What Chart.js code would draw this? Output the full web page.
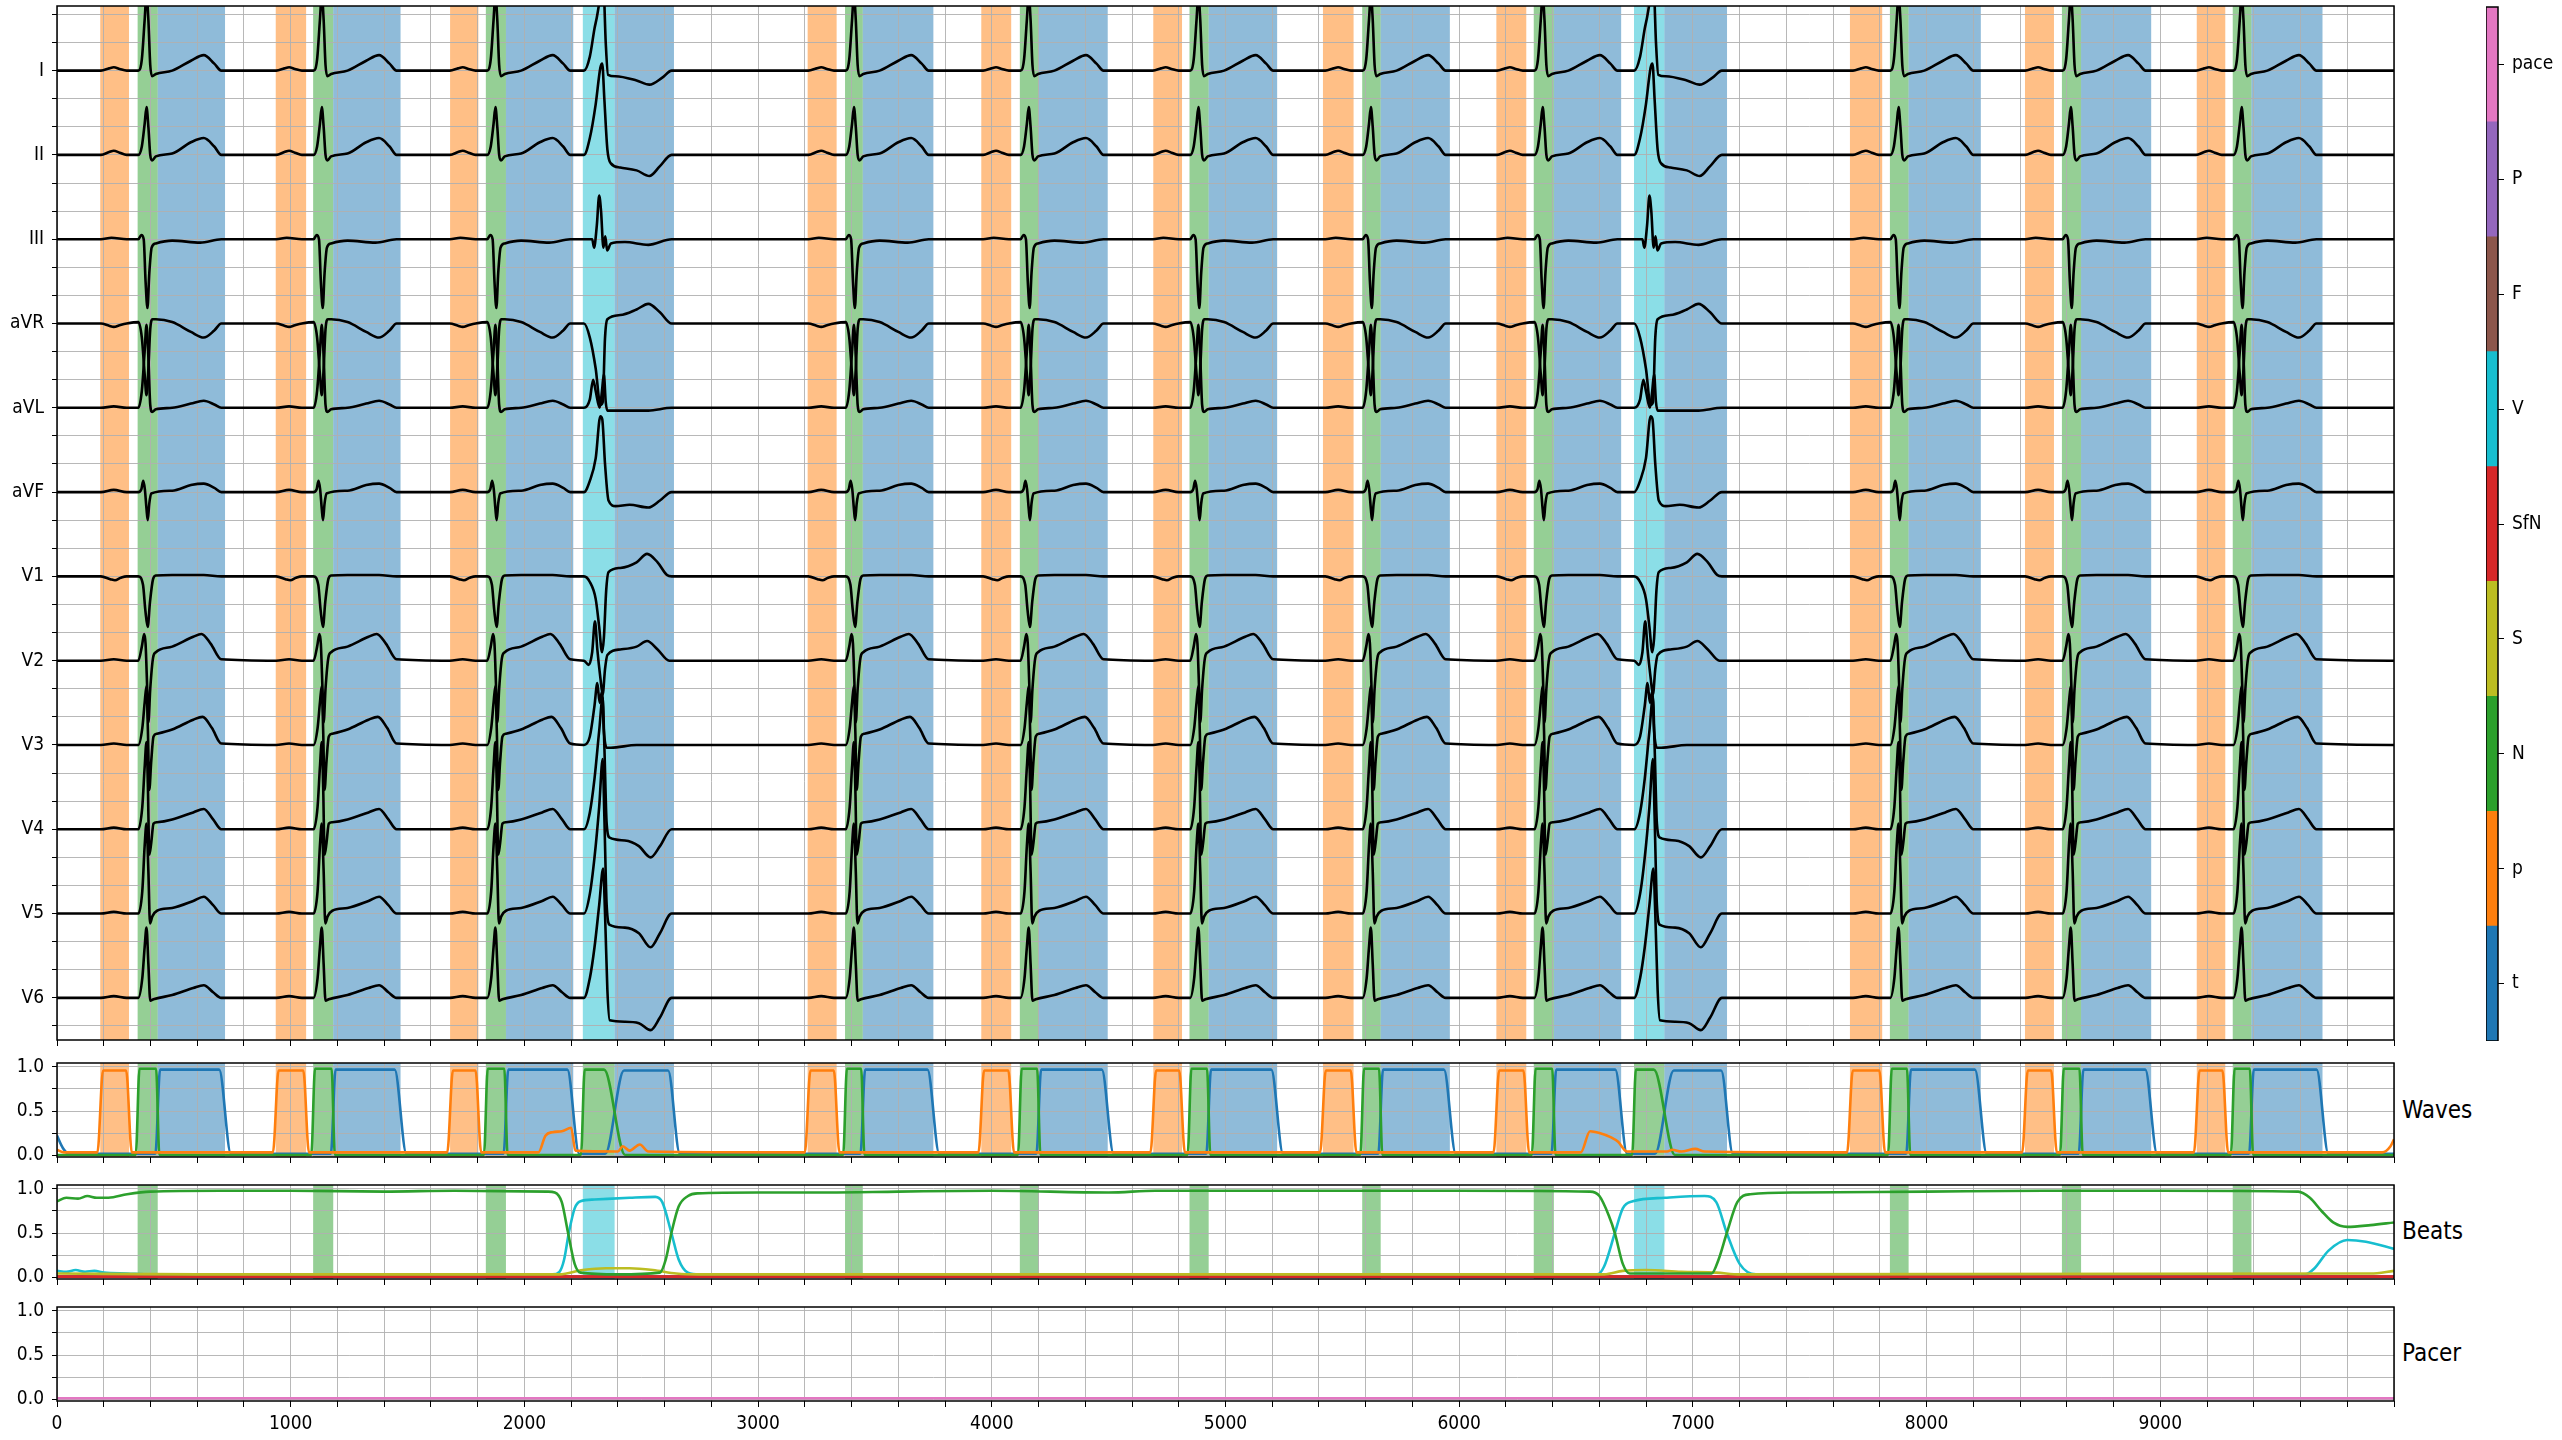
<!DOCTYPE html>
<html>
<head>
<meta charset="utf-8">
<script src="https://cdn.jsdelivr.net/npm/chart.js@4.4.1/dist/chart.umd.min.js"></script>
<style>
  html, body { margin: 0; padding: 0; background: #fff; }
  body { width: 2562px; height: 1440px; position: relative; overflow: hidden; }
  canvas { position: absolute; }
  .side-label {
    position: absolute;
    font-family: "DejaVu Sans Condensed", "DejaVu Sans", sans-serif;
    font-size: 24px;
    color: #000;
    transform: translateY(-50%);
    white-space: nowrap;
  }
</style>
</head>
<body>
<canvas id="ecgChart" width="2400" height="1047" style="left:0;top:0"></canvas>
<canvas id="wavesChart" width="2400" height="114" style="left:0;top:1053px"></canvas>
<canvas id="beatsChart" width="2400" height="114" style="left:0;top:1175px"></canvas>
<canvas id="pacerChart" width="2400" height="143" style="left:0;top:1297px"></canvas>
<canvas id="colorbar" width="76" height="1041" style="left:2486px;top:0"></canvas>
<div class="side-label" style="left:2402px;top:1110px">Waves</div>
<div class="side-label" style="left:2402px;top:1231px">Beats</div>
<div class="side-label" style="left:2402px;top:1353px">Pacer</div>

<script>
// ─── Data ───

var leadNames = ["I", "II", "III", "aVR", "aVL", "aVF", "V1", "V2", "V3", "V4", "V5", "V6"];
var classNames = ["t", "p", "N", "S", "SfN", "V", "F", "P", "pace"];
var classColors = ["#1f77b4", "#ff7f0e", "#2ca02c", "#bcbd22", "#d62728", "#17becf", "#8c564b", "#9467bd", "#e377c2"];
var xMajorTicks = [0, 1000, 2000, 3000, 4000, 5000, 6000, 7000, 8000, 9000];
var probTicks = [0, 0.5, 1.0];

// sample index of each R peak (normal) and each ventricular beat peak
var normalPeaks = [383, 1133, 1876, 3410, 4158, 4884, 5622, 6357, 7880, 8617, 9348];
var pvcPeaks = [2330, 6824];

// segmentation spans [start, end] in samples
var pWaves = [[185, 308], [936, 1066], [1682, 1803], [3212, 3336], [3955, 4083], [4691, 4814],
  [5417, 5548], [6159, 6287], [7672, 7810], [8421, 8545], [9156, 9278]];
var qrsNormal = [[345, 431], [1096, 1182], [1835, 1921], [3372, 3448], [4120, 4201], [4846, 4928],
  [5585, 5664], [6319, 6405], [7843, 7923], [8579, 8661], [9310, 9390]];
var qrsVentricular = [[2250, 2386], [6748, 6878]];
var tWaves = [[431, 719], [1182, 1470], [1921, 2209], [3448, 3750], [4201, 4496], [4928, 5221],
  [5664, 5960], [6405, 6693], [7923, 8232], [8661, 8961], [9390, 9694]];
var tWavesAfterV = [[2386, 2640], [6878, 7146]];

// normal beat shape per lead: [samples from R peak, amplitude in grid units]
var normalBeat = [
  [[-195, 0], [-160, 0.08], [-140, 0.12], [-115, 0.06], [-85, 0], [-35, 0], [-20, 0.4], [-8, 1.8], [0, 2.7], [8, 1.8], [16, 0.2], [24, -0.2], [40, -0.12], [110, 0], [190, 0.35], [245, 0.55], [290, 0.25], [320, 0]],
  [[-195, 0], [-160, 0.1], [-140, 0.15], [-115, 0.08], [-85, 0], [-35, 0], [-20, 0.3], [-8, 1.1], [0, 1.7], [8, 1.0], [16, 0], [24, -0.2], [40, -0.05], [110, 0.05], [190, 0.45], [245, 0.6], [290, 0.3], [320, 0]],
  [[-195, 0], [-150, 0.05], [-85, 0], [-35, 0], [-22, 0.15], [-12, 0], [-4, -1.5], [4, -2.45], [12, -1.2], [22, -0.3], [40, -0.15], [110, -0.05], [230, -0.12], [320, 0]],
  [[-195, 0], [-160, -0.08], [-140, -0.12], [-115, -0.06], [-85, 0], [-35, 0.05], [-20, -0.5], [-8, -1.8], [0, -2.55], [8, -1.6], [16, -0.2], [26, 0.15], [40, 0.15], [110, 0.05], [190, -0.3], [245, -0.5], [290, -0.25], [320, 0]],
  [[-195, 0], [-140, 0.05], [-85, 0], [-35, 0], [-20, 0.6], [-8, 2.0], [0, 2.95], [8, 1.8], [16, 0.1], [24, -0.15], [40, -0.05], [110, 0], [190, 0.15], [245, 0.25], [290, 0.12], [320, 0]],
  [[-195, 0], [-140, 0.08], [-85, 0], [-35, 0], [-22, 0.1], [-14, 0.4], [-7, 0.1], [0, -0.6], [5, -1.0], [12, -0.4], [20, -0.05], [110, 0.05], [190, 0.25], [245, 0.3], [290, 0.15], [320, 0]],
  [[-195, 0], [-155, -0.1], [-135, -0.14], [-110, -0.05], [-85, 0], [-35, 0], [-15, -0.3], [-5, -1.2], [5, -1.8], [15, -0.9], [28, -0.1], [40, 0.03], [110, 0.05], [245, 0.05], [320, 0]],
  [[-195, 0], [-140, 0.05], [-85, 0], [-35, 0], [-20, 0.5], [-10, 0.95], [-4, 0.6], [3, -1.0], [8, -2.2], [16, -1.0], [28, 0.1], [40, 0.3], [110, 0.5], [200, 0.85], [235, 0.95], [275, 0.6], [320, 0.05]],
  [[-195, 0], [-140, 0.05], [-85, 0], [-35, 0], [-18, 0.6], [-8, 1.5], [0, 2.1], [6, 0.5], [12, -1.6], [20, -0.6], [30, 0.3], [45, 0.4], [110, 0.55], [200, 0.9], [240, 1.0], [280, 0.6], [320, 0.05]],
  [[-195, 0], [-140, 0.06], [-85, 0], [-35, 0], [-18, 0.8], [-8, 2.2], [0, 3.1], [6, 1.5], [12, -0.9], [20, -0.5], [30, 0.2], [45, 0.25], [110, 0.35], [200, 0.6], [245, 0.72], [285, 0.35], [320, 0]],
  [[-195, 0], [-140, 0.06], [-85, 0], [-35, 0], [-18, 0.8], [-8, 2.4], [0, 3.2], [8, 1.5], [15, -0.35], [25, -0.1], [45, 0.1], [110, 0.2], [200, 0.45], [245, 0.6], [285, 0.3], [320, 0]],
  [[-195, 0], [-140, 0.06], [-85, 0], [-35, 0], [-18, 0.7], [-8, 1.8], [0, 2.5], [8, 1.2], [16, -0.1], [30, -0.05], [110, 0.1], [200, 0.35], [245, 0.45], [285, 0.2], [320, 0]]
];

// ventricular beat shape per lead: [samples from peak, amplitude in grid units]
var pvcBeat = [
  [[-75, 0], [-50, 0.5], [-30, 1.5], [-20, 1.9], [-10, 2.4], [0, 3.0], [8, 3.0], [18, 1.0], [28, -0.15], [60, -0.2], [150, -0.35], [205, -0.5], [260, -0.25], [300, 0]],
  [[-75, 0], [-50, 0.6], [-25, 1.8], [-5, 3.1], [3, 3.25], [12, 2.0], [25, 0.2], [40, -0.3], [80, -0.45], [150, -0.55], [205, -0.75], [250, -0.4], [300, 0]],
  [[-75, 0], [-40, 0], [-32, -0.3], [-20, 0.5], [-10, 1.55], [-2, 1.0], [8, -0.3], [16, 0.1], [24, -0.4], [40, -0.15], [100, -0.1], [200, -0.2], [300, 0]],
  [[-75, 0], [-50, -0.5], [-25, -1.6], [-5, -2.9], [5, -2.8], [15, -0.5], [25, 0.15], [80, 0.3], [150, 0.5], [200, 0.7], [250, 0.4], [300, 0]],
  [[-75, 0], [-50, 0.3], [-36, 1.0], [-25, 0.6], [-8, 0], [2, 0.6], [10, 1.2], [18, 0.2], [25, -0.1], [200, -0.1], [300, 0]],
  [[-75, 0], [-50, 0.4], [-25, 1.2], [-5, 2.7], [3, 2.6], [15, 1.0], [30, -0.3], [60, -0.5], [120, -0.45], [200, -0.55], [250, -0.3], [300, 0]],
  [[-75, 0], [-50, -0.2], [-25, -0.8], [-10, -1.8], [2, -2.7], [10, -2.2], [20, -0.5], [30, 0.15], [80, 0.3], [150, 0.5], [195, 0.8], [240, 0.5], [280, 0.05], [300, 0]],
  [[-75, 0], [-55, -0.15], [-40, 0.3], [-28, 1.4], [-18, 0.4], [-5, -0.6], [5, -1.2], [15, -0.3], [25, 0.2], [80, 0.4], [150, 0.5], [195, 0.7], [240, 0.4], [290, 0]],
  [[-75, 0], [-50, 0.3], [-30, 1.4], [-18, 2.2], [-8, 1.5], [2, 1.9], [10, 0.5], [22, -0.1], [40, -0.1], [150, 0], [300, 0]],
  [[-75, 0], [-50, 0.6], [-30, 1.8], [-10, 3.5], [5, 4.7], [12, 3.0], [22, 0.2], [35, -0.3], [100, -0.4], [160, -0.6], [210, -1.0], [250, -0.6], [300, 0]],
  [[-75, 0], [-50, 0.7], [-30, 2.0], [-10, 3.8], [5, 5.5], [12, 3.5], [22, 0.3], [35, -0.4], [100, -0.5], [160, -0.7], [210, -1.2], [250, -0.7], [300, 0]],
  [[-75, 0], [-50, 0.7], [-30, 1.8], [-10, 3.3], [7, 4.6], [15, 3.0], [25, 0.3], [35, -0.8], [100, -0.85], [160, -0.9], [210, -1.15], [250, -0.7], [300, 0]]
];

// wave probabilities outside the step plateaus
var pProbExtra = [[0, 0.06], [30, 0.03], [2060, 0.03], [2090, 0.22], [2120, 0.26], [2160, 0.27], [2200, 0.31], [2218, 0.05],
  [2400, 0.04], [2421, 0.1], [2450, 0.05], [2494, 0.12], [2530, 0.04], [6520, 0.03], [6560, 0.27], [6600, 0.25],
  [6650, 0.2], [6680, 0.15], [6718, 0.04], [6890, 0.04], [6912, 0.06], [6950, 0.04], [7010, 0.07], [7050, 0.04],
  [9950, 0.03], [9985, 0.1], [10000, 0.18]];
var tProbExtra = [[0, 0.22], [25, 0.08], [50, 0.015], [10000, 0.015]];
var qrsProbExtra = [[0, 0], [10000, 0]];

// beat class probabilities (Beats panel)
var probN = [[0, 0.86], [40, 0.9], [90, 0.89], [130, 0.92], [170, 0.9], [220, 0.9], [300, 0.94], [400, 0.97], [700, 0.98],
  [1000, 0.98], [1400, 0.97], [1700, 0.98], [2100, 0.97], [2130, 0.96], [2160, 0.85], [2187, 0.5], [2215, 0.15],
  [2240, 0.05], [2400, 0.03], [2580, 0.05], [2605, 0.2], [2629, 0.5], [2660, 0.8], [2700, 0.92], [2740, 0.95],
  [3000, 0.96], [3300, 0.96], [3600, 0.97], [4000, 0.98], [4500, 0.96], [4700, 0.98], [5200, 0.98], [5500, 0.98],
  [6000, 0.98], [6560, 0.97], [6600, 0.92], [6640, 0.7], [6666, 0.5], [6700, 0.15], [6730, 0.04], [7080, 0.04],
  [7110, 0.2], [7145, 0.5], [7190, 0.85], [7245, 0.94], [7450, 0.96], [8000, 0.97], [8500, 0.98], [9000, 0.98],
  [9590, 0.97], [9640, 0.9], [9690, 0.75], [9740, 0.62], [9800, 0.57], [9900, 0.59], [10000, 0.62]];
var probV = [[0, 0.07], [40, 0.06], [80, 0.08], [120, 0.06], [160, 0.07], [200, 0.05], [300, 0.04], [400, 0.03],
  [2120, 0.03], [2150, 0.06], [2170, 0.2], [2190, 0.5], [2215, 0.78], [2240, 0.86], [2300, 0.88], [2450, 0.9],
  [2560, 0.91], [2590, 0.85], [2629, 0.5], [2660, 0.2], [2700, 0.05], [2750, 0.03], [6590, 0.03], [6620, 0.12],
  [6666, 0.5], [6700, 0.78], [6743, 0.86], [6880, 0.9], [7050, 0.92], [7100, 0.85], [7145, 0.5], [7200, 0.15],
  [7270, 0.03], [9620, 0.03], [9660, 0.1], [9720, 0.3], [9800, 0.42], [9880, 0.4], [10000, 0.32]];
var probS = [[0, 0.04], [600, 0.03], [2150, 0.03], [2250, 0.08], [2350, 0.1], [2450, 0.1], [2550, 0.08], [2650, 0.04],
  [2750, 0.03], [6620, 0.03], [6700, 0.07], [6800, 0.08], [6950, 0.06], [7100, 0.05], [7200, 0.03], [9900, 0.04], [10000, 0.07]];
var probSfN = [[0, 0.005], [10000, 0.005]];
var probF = [[0, 0.005], [10000, 0.005]];
var probP = [[0, 0.01], [10000, 0.01]];
var probPace = [[0, 0.01], [10000, 0.01]];

// ─── Helpers ───

var fontFamily = "'DejaVu Sans Condensed', 'DejaVu Sans', sans-serif";
var tickFont = { family: fontFamily, size: 19 };
var gridColor = "rgba(176, 176, 176, 0.9)";

function spanColor(hex) {
  var n = parseInt(hex.slice(1), 16);
  return "rgba(" + (n >> 16) + "," + ((n >> 8) & 255) + "," + (n & 255) + ",0.5)";
}

function toXY(pairs) {
  return pairs.map(function (p) { return { x: p[0], y: p[1] }; });
}

function buildLead(k) {
  var base = -3 * k;
  var events = [];
  normalPeaks.forEach(function (t) { events.push([t, normalBeat[k]]); });
  pvcPeaks.forEach(function (t) { events.push([t, pvcBeat[k]]); });
  events.sort(function (a, b) { return a[0] - b[0]; });
  var pts = [{ x: 0, y: base }];
  events.forEach(function (ev) {
    ev[1].forEach(function (p) { pts.push({ x: ev[0] + p[0], y: base + p[1] }); });
  });
  pts.push({ x: 10000, y: base });
  return pts;
}

// plateau curve over the segmentation spans, edges
function plateau(regions, lo, hi, rise, fall) {
  var pts = [];
  regions.forEach(function (r) {
    pts.push([r[0] - rise, lo], [r[0] + rise, hi], [r[1] - fall, hi], [r[1] + fall, lo]);
  });
  return pts;
}

function merged() {
  var all = [];
  for (var i = 0; i < arguments.length; i++) all = all.concat(arguments[i]);
  all.sort(function (a, b) { return a[0] - b[0]; });
  return toXY(all);
}

var spanPlugin = {
  id: "spans",
  beforeDraw: function (chart, args, opts) {
    var ctx = chart.ctx, area = chart.chartArea, xs = chart.scales.x;
    ctx.save();
    (opts.list || []).forEach(function (s) {
      var a = xs.getPixelForValue(s[0]), b = xs.getPixelForValue(s[1]);
      ctx.fillStyle = s[2];
      ctx.fillRect(a, area.top, b - a, area.bottom - area.top);
    });
    ctx.restore();
  }
};

var framePlugin = {
  id: "frame",
  afterDraw: function (chart) {
    var ctx = chart.ctx, a = chart.chartArea;
    ctx.save();
    ctx.strokeStyle = "#000";
    ctx.lineWidth = 1.5;
    ctx.strokeRect(a.left, a.top, a.right - a.left, a.bottom - a.top);
    ctx.restore();
  }
};

function spansFrom(regions, hex) {
  return regions.map(function (r) { return [r[0], r[1], spanColor(hex)]; });
}

// fixed axis sizes, and no extra room for half-labels at the ends
function fixWidth(w) {
  return function (s) { s.width = w; s.paddingTop = 0; s.paddingBottom = 0; };
}
function fixHeight(h) {
  return function (s) { s.height = h; s.paddingLeft = 0; s.paddingRight = 0; };
}

function xAxis(height, showLabels) {
  return {
    type: "linear", min: 0, max: 10000,
    afterBuildTicks: function (s) {
      var t = [];
      for (var v = 0; v <= 10000; v += 200) t.push({ value: v });
      s.ticks = t;
    },
    afterFit: fixHeight(height),
    grid: { color: gridColor, lineWidth: 1, drawTicks: true, tickLength: 6, tickColor: "#000" },
    border: { display: false },
    ticks: {
      display: showLabels, autoSkip: false, maxRotation: 0, minRotation: 0, padding: 6,
      color: "#000", font: tickFont,
      callback: function (v) { return xMajorTicks.indexOf(v) >= 0 ? String(v) : ""; }
    }
  };
}

function probAxis() {
  return {
    type: "linear", min: -0.022, max: 1.045,
    afterBuildTicks: function (s) {
      s.ticks = [0, 0.25, 0.5, 0.75, 1].map(function (v) { return { value: v }; });
    },
    afterFit: fixWidth(57),
    grid: { color: gridColor, lineWidth: 1, drawTicks: true, tickLength: 5, tickColor: "#000" },
    border: { display: false },
    ticks: {
      autoSkip: false, padding: 8, color: "#000", font: tickFont,
      callback: function (v) { return probTicks.indexOf(v) >= 0 ? v.toFixed(1) : ""; }
    }
  };
}

function probLine(points, color) {
  return {
    data: points, borderColor: color, borderWidth: 2.6, pointRadius: 0,
    fill: false, cubicInterpolationMode: "monotone"
  };
}

function smallPanel(id, datasets, spans, xHeight, showLabels) {
  return new Chart(document.getElementById(id), {
    type: "line",
    data: { datasets: datasets },
    options: {
      responsive: false, animation: false, devicePixelRatio: 1, parsing: false,
      layout: { autoPadding: false, padding: { top: 10, right: 6, left: 0, bottom: 0 } },
      plugins: { legend: { display: false }, tooltip: { enabled: false }, spans: { list: spans } },
      scales: { x: xAxis(xHeight, showLabels), y: probAxis() }
    },
    plugins: [spanPlugin, framePlugin]
  });
}

// ─── Charts ───

Chart.defaults.font.family = fontFamily;
Chart.defaults.color = "#000";

var mainSpans = spansFrom(pWaves, classColors[1])
  .concat(spansFrom(qrsNormal, classColors[2]))
  .concat(spansFrom(qrsVentricular, classColors[5]))
  .concat(spansFrom(tWaves.concat(tWavesAfterV), classColors[0]));

new Chart(document.getElementById("ecgChart"), {
  type: "line",
  data: {
    datasets: leadNames.map(function (name, k) {
      return {
        label: name, data: buildLead(k), borderColor: "#000", borderWidth: 2.6,
        pointRadius: 0, fill: false, cubicInterpolationMode: "monotone"
      };
    })
  },
  options: {
    responsive: false, animation: false, devicePixelRatio: 1, parsing: false,
    layout: { autoPadding: false, padding: { top: 6, right: 6, left: 0, bottom: 0 } },
    plugins: { legend: { display: false }, tooltip: { enabled: false }, spans: { list: mainSpans } },
    scales: {
      x: xAxis(7, false),
      y: {
        type: "linear", min: -34.5, max: 2.3,
        afterBuildTicks: function (s) {
          var t = [];
          for (var v = -34; v <= 2; v++) t.push({ value: v });
          s.ticks = t;
        },
        afterFit: fixWidth(57),
        grid: { color: gridColor, lineWidth: 1, drawTicks: true, tickLength: 5, tickColor: "#000" },
        border: { display: false },
        ticks: {
          autoSkip: false, padding: 8, color: "#000", font: tickFont,
          callback: function (v) { return v % 3 === 0 ? leadNames[Math.round(-v / 3)] : ""; }
        }
      }
    }
  },
  plugins: [spanPlugin, framePlugin]
});

var waveSpans = spansFrom(pWaves, classColors[1])
  .concat(spansFrom(qrsNormal.concat(qrsVentricular), classColors[2]))
  .concat(spansFrom(tWaves.concat(tWavesAfterV), classColors[0]));

smallPanel("wavesChart", [
  probLine(merged(plateau(pWaves, 0.03, 0.96, 12, 12), pProbExtra), classColors[1]),
  probLine(merged(plateau(qrsNormal, 0, 0.98, 8, 7), plateau(qrsVentricular, 0, 0.97, 8, 45), qrsProbExtra), classColors[2]),
  probLine(merged(plateau(tWaves, 0.015, 0.97, 10, 25), plateau(tWavesAfterV, 0.015, 0.96, 40, 25), tProbExtra), classColors[0])
], waveSpans, 10, false);

var beatSpans = spansFrom(qrsNormal, classColors[2]).concat(spansFrom(qrsVentricular, classColors[5]));

smallPanel("beatsChart", [
  probLine(toXY(probN), classColors[2]),
  probLine(toXY(probS), classColors[3]),
  probLine(toXY(probSfN), classColors[4]),
  probLine(toXY(probV), classColors[5]),
  probLine(toXY(probF), classColors[6]),
  probLine(toXY(probP), classColors[7])
], beatSpans, 10, false);

smallPanel("pacerChart", [
  probLine(toXY(probPace), classColors[8])
], [], 39, true);

// colour bar
new Chart(document.getElementById("colorbar"), {
  type: "bar",
  data: {
    labels: [""],
    datasets: classNames.map(function (name, i) {
      return {
        label: name, data: [1], backgroundColor: classColors[i], borderWidth: 0,
        barPercentage: 1, categoryPercentage: 1
      };
    })
  },
  options: {
    responsive: false, animation: false, devicePixelRatio: 1,
    layout: { autoPadding: false, padding: { top: 7, right: 0, left: 0, bottom: 0 } },
    plugins: { legend: { display: false }, tooltip: { enabled: false } },
    scales: {
      x: { display: false, stacked: true },
      y: {
        stacked: true, position: "right", min: 0, max: 9,
        afterBuildTicks: function (s) {
          s.ticks = classNames.map(function (n, i) { return { value: i + 0.5 }; });
        },
        afterFit: fixWidth(64),
        grid: { drawOnChartArea: false, drawTicks: true, tickLength: 6, tickColor: "#000" },
        border: { display: false },
        ticks: {
          autoSkip: false, padding: 8, color: "#000", font: tickFont,
          callback: function (v, i) { return classNames[i]; }
        }
      }
    }
  },
  plugins: [framePlugin]
});
</script>
</body>
</html>
